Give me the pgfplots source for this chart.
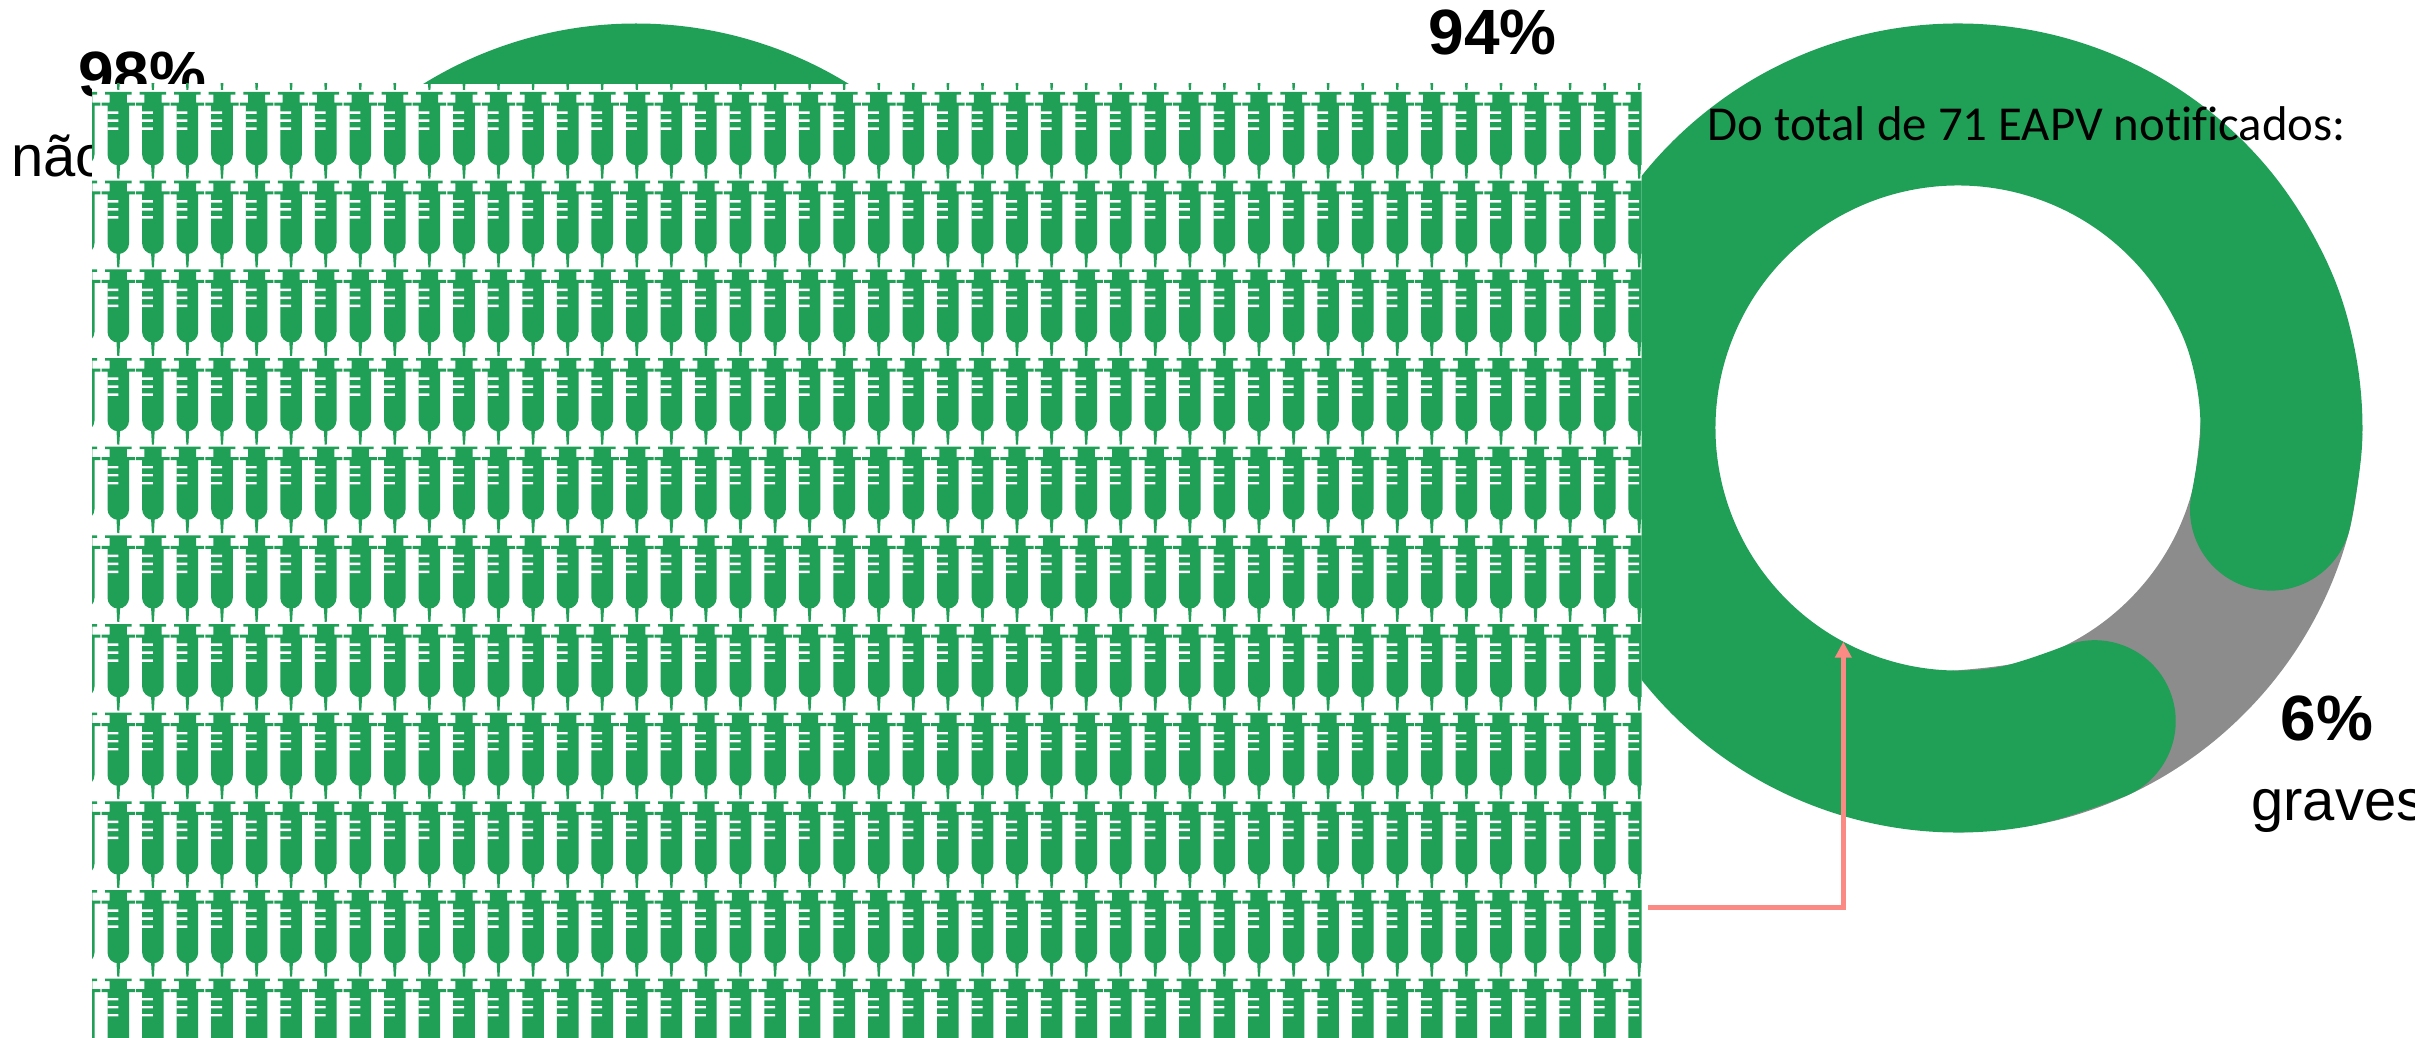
\documentclass[border=0pt]{standalone}
\usepackage{fontspec}
\setmainfont{Liberation Sans}
\newfontfamily\carlito[Ligatures=CommonOff]{Carlito}
\usepackage{pgfplots}
\usepackage{pgfplotstable}
\pgfplotsset{compat=1.18}
\usetikzlibrary{arrows.meta}

\definecolor{vacgreen}{HTML}{209F56}
\definecolor{vacgray}{HTML}{8C8C8C}
\definecolor{vacred}{HTML}{FB8A84}

% syringe, origin at the middle of the plunger head (1 px = 0.5pt)
\pgfdeclareplotmark{syringe}{%
  \pgfpathrectanglecorners{\pgfpoint{-6.65pt}{0pt}}{\pgfpoint{6.65pt}{-1.3pt}}%
  \pgfpathrectanglecorners{\pgfpoint{-4.3pt}{-1.3pt}}{\pgfpoint{4.3pt}{-5.3pt}}%
  \pgfpathrectanglecorners{\pgfpoint{-8.35pt}{-5.3pt}}{\pgfpoint{8.35pt}{-6.8pt}}%
  \pgfpathmoveto{\pgfpoint{-5.4pt}{-6.8pt}}%
  \pgfpathlineto{\pgfpoint{-5.4pt}{-31.25pt}}%
  \pgfpathcurveto{\pgfpoint{-5.4pt}{-34.2pt}}{\pgfpoint{-3pt}{-36.65pt}}{\pgfpoint{0pt}{-36.65pt}}%
  \pgfpathcurveto{\pgfpoint{3pt}{-36.65pt}}{\pgfpoint{5.4pt}{-34.2pt}}{\pgfpoint{5.4pt}{-31.25pt}}%
  \pgfpathlineto{\pgfpoint{5.4pt}{-6.8pt}}%
  \pgfpathclose
  \pgfpathmoveto{\pgfpoint{-0.9pt}{-36.5pt}}%
  \pgfpathlineto{\pgfpoint{-0.5pt}{-43.3pt}}%
  \pgfpathlineto{\pgfpoint{0.5pt}{-43.3pt}}%
  \pgfpathlineto{\pgfpoint{0.9pt}{-36.5pt}}%
  \pgfpathclose
  \pgfusepathqfill
  \pgfscope
  \pgfsetfillcolor{white}%
  \pgfpathrectanglecorners{\pgfpoint{-5.5pt}{-9.7pt}}{\pgfpoint{0pt}{-10.9pt}}%
  \pgfpathrectanglecorners{\pgfpoint{-5.5pt}{-13.7pt}}{\pgfpoint{0pt}{-14.9pt}}%
  \pgfpathrectanglecorners{\pgfpoint{-5.5pt}{-17.7pt}}{\pgfpoint{0pt}{-18.9pt}}%
  \pgfusepathqfill
  \endpgfscope
}

% column positions of the syringes, in reference pixels
\pgfplotstableread{
x
83.7
118.3
152.9
187.4
222.0
256.6
291.1
325.7
360.3
394.8
429.4
464.0
498.5
533.1
567.7
602.2
636.8
671.4
705.9
740.5
775.1
809.6
844.2
878.8
913.3
947.9
982.5
1017.0
1051.6
1086.2
1120.7
1155.3
1189.9
1224.4
1259.0
1293.6
1328.1
1362.7
1397.3
1431.8
1466.4
1501.0
1535.5
1570.1
1604.7
1639.2
}\syringecols

\pgfplotsset{pxaxis/.style={
    at={(0pt,0pt)},
    anchor=south west,
    scale only axis,
    width=1207.5pt,
    height=519pt,
    xmin=0, xmax=2415,
    ymin=0, ymax=1038,
    y dir=reverse,
    axis lines=none,
    clip=false,
}}

\begin{document}
\begin{tikzpicture}
  \clip[use as bounding box] (0,0) rectangle (1207.5pt,519pt);

  % donuts and labels, drawn in reference pixels
  \begin{axis}[pxaxis]
    % left donut, only its top shows above the syringes
    \addplot[vacgreen, line width=81pt, smooth, tension=0.61, no markers] coordinates {
      (355.8,266.25) (407.3,199.3) (474.25,147.8) (552.3,115.5) (636,104.5)
      (719.7,115.5) (797.75,147.8) (864.7,199.3) (916.2,266.25)};
    % right donut: 6% gray
    \addplot[vacgray, line width=81pt, smooth, tension=0.61, no markers] coordinates {
      (2281.5,428) (2270.5,511.7) (2238.2,589.75) (2186.7,656.7)
      (2119.75,708.2) (2041.7,740.5) (1958,751.5)};
    % right donut: 94% green
    \addplot[vacgreen, line width=81pt, line cap=round, smooth, tension=0.61, no markers] coordinates {
      (2094.7,721.2) (2014.2,746.6) (1929.8,750.3) (1847.4,732) (1772.4,693)
      (1710.2,635.9) (1664.8,564.7) (1639.4,484.2) (1635.7,399.8) (1654,317.4)
      (1693,242.4) (1750.1,180.2) (1821.3,134.8) (1901.8,109.4) (1986.2,105.7)
      (2068.6,124) (2143.6,163) (2205.8,220.1) (2251.2,291.3) (2274.4,360.7)
      (2281.4,435.3) (2271,509.6)};
    \addplot[vacred, line width=2.4pt, no markers,
      -{Triangle[length=8pt,width=8pt]}] coordinates {
      (1648,907.7) (1843.3,907.7) (1843.3,641.7)};

    \node[anchor=base west, inner sep=0pt, font=\fontsize{32}{32}\selectfont\bfseries] at (axis cs:78,97) {98\%};
    \node[anchor=base west, inner sep=0pt, font=\fontsize{29}{29}\selectfont] at (axis cs:11,176.7) {não graves};
    \node[anchor=base west, inner sep=0pt, font=\fontsize{32}{32}\selectfont\bfseries] at (axis cs:1428,55) {94\%};
    \node[anchor=base west, inner sep=0pt, font=\fontsize{32}{32}\selectfont\bfseries] at (axis cs:2280,740) {6\%};
    \node[anchor=base west, inner sep=0pt, font=\fontsize{29}{29}\selectfont] at (axis cs:2251,820) {graves};
    \node[anchor=base west, inner sep=0pt, font=\carlito\fontsize{24.4}{24.4}\selectfont] at (axis cs:1707,140.7) {Do total de 71 EAPV notificados:};
  \end{axis}

  % white panel with the rows of syringes, covers part of the left donut
  \begin{scope}
    \clip (46pt,0pt) rectangle (820.75pt,477pt);
    \fill[white] (46pt,0pt) rectangle (820.75pt,477pt);
    \begin{axis}[pxaxis]
      \pgfplotsinvokeforeach{3.3,92,180.7,269.3,358,446.6,535.3,624,712.6,801.3,890,978.6}{
        \addplot[only marks, mark=syringe, mark options={fill=vacgreen, draw=none}]
          table[x index=0, y index=0, y expr=#1] {\syringecols};
      }
    \end{axis}
  \end{scope}
\end{tikzpicture}
\end{document}
